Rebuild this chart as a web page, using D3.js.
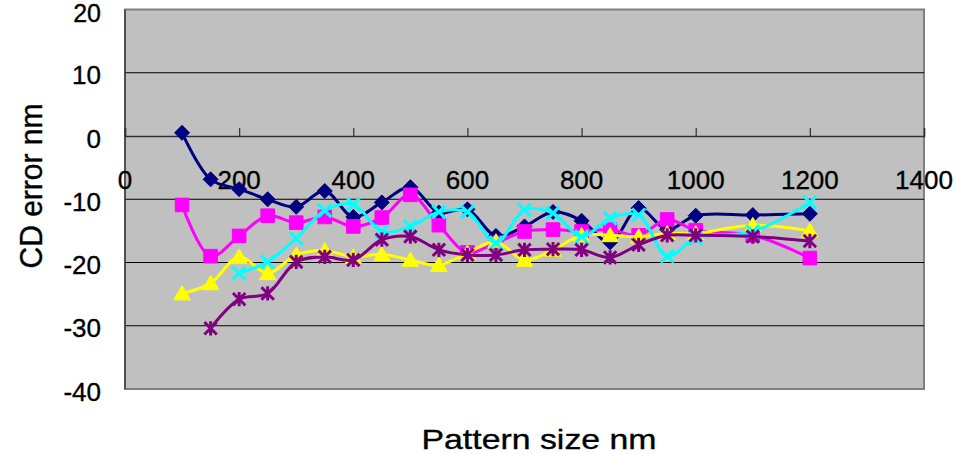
<!DOCTYPE html>
<html><head><meta charset="utf-8">
<script src="https://cdn.jsdelivr.net/npm/d3@7"></script>
<style>body{margin:0;background:#fff}svg{display:block}text{font-family:"Liberation Sans",Arial,sans-serif;fill:#000;stroke:#000;stroke-width:0.35px}</style>
</head><body>
<svg id="c" width="969" height="454"></svg>
<script>
const xTicks = [0,200,400,600,800,1000,1200,1400];
const yTicks = [-40,-30,-20,-10,0,10,20];
const xAll = [100,150,200,250,300,350,400,450,500,550,600,650,700,750,800,850,900,950,1000,1100,1200];
const navyVals    = [0.5,-6.85,-8.4,-10.0,-11.2,-8.7,-12.8,-10.5,-8.1,-12.1,-11.6,-15.8,-14.3,-12.0,-13.4,-16.8,-11.4,-14.8,-12.6,-12.5,-12.3];
const magentaVals = [-10.9,-19.0,-15.8,-12.6,-13.7,-12.8,-14.3,-12.9,-9.3,-14.1,-18.4,-16.9,-15.1,-14.8,-15.1,-14.8,-15.7,-13.2,-14.9,-15.7,-19.3];
const yellowVals  = [-24.9,-23.3,-19.1,-21.7,-18.8,-18.1,-19.1,-18.7,-19.6,-20.4,-18.5,-16.7,-19.6,-18.0,-15.7,-15.7,-15.9,-15.4,-15.4,-14.1,-15.0];
const cyanVals    = [null,null,-21.7,-19.9,-16.2,-11.8,-10.8,-15.1,-14.3,-12.0,-12.0,-16.9,-11.7,-12.2,-15.9,-13.0,-12.5,-19.0,-16.2,-15.1,-10.5];
const purpleVals  = [null,-30.4,-25.8,-24.9,-19.9,-19.1,-19.6,-16.4,-15.9,-18.0,-18.8,-18.8,-18.0,-17.9,-18.0,-19.2,-17.2,-15.7,-15.7,-15.9,-16.6];

const svg = d3.select("#c");
const L=125, R=924, T=9.5, B=389;
const x = d3.scaleLinear().domain([0,1400]).range([L,R]);
const y = d3.scaleLinear().domain([-40,20]).range([B,T]);

svg.append("rect").attr("x",L).attr("y",T).attr("width",R-L).attr("height",B-T)
  .attr("fill","#C0C0C0").attr("stroke","#808080").attr("stroke-width",2);

svg.append("g").selectAll("line").data(yTicks.filter(v=>v!==0 && v!==20 && v!==-40)).join("line")
  .attr("x1",L).attr("x2",R).attr("y1",d=>y(d)).attr("y2",d=>y(d))
  .attr("stroke","#000").attr("stroke-width",1);

svg.append("line").attr("x1",L).attr("x2",L).attr("y1",T).attr("y2",B).attr("stroke","#404040").attr("stroke-width",1.5);

svg.append("g").selectAll("text").data(yTicks).join("text")
  .attr("x",101).attr("y",d=>y(d)+(d===20?12.5:11.5)).attr("text-anchor","end")
  .attr("font-size",d=>d===20?25:26).text(d=>d);

const xAxisG = svg.append("g").attr("transform",`translate(0,${y(0)})`)
  .call(d3.axisTop(x).tickValues(xTicks).tickSize(8).tickFormat(""));
xAxisG.select(".domain").attr("stroke","#303030").attr("stroke-width",1.5);
xAxisG.selectAll(".tick line").attr("stroke","#303030").attr("stroke-width",1.2);

svg.append("g").selectAll("text").data(xTicks).join("text")
  .attr("x",d=>x(d)).attr("y",y(0)+53).attr("text-anchor","middle")
  .attr("font-size",26).text(d=>d);

svg.append("text").attr("transform","translate(42,186) rotate(-90)")
  .attr("text-anchor","middle").attr("font-size",31)
  .attr("textLength",165).attr("lengthAdjust","spacingAndGlyphs").text("CD error nm");
svg.append("text").attr("x",539).attr("y",449).attr("text-anchor","middle").attr("font-size",28)
  .attr("textLength",235).attr("lengthAdjust","spacingAndGlyphs").text("Pattern size nm");

const diamond = {draw(c,s){const r=s;c.moveTo(0,-r);c.lineTo(r,0);c.lineTo(0,r);c.lineTo(-r,0);c.closePath();}};
const square = {draw(c,s){const r=s;c.rect(-r,-r,2*r,2*r);}};
const tri = {draw(c,s){const r=s;c.moveTo(0,-r*1.05);c.lineTo(r*1.1,r*0.85);c.lineTo(-r*1.1,r*0.85);c.closePath();}};
const times = {draw(c,s){const r=s;c.moveTo(-r,-r);c.lineTo(r,r);c.moveTo(r,-r);c.lineTo(-r,r);}};
const aster = {draw(c,s){const r=s;c.moveTo(-r,-r);c.lineTo(r,r);c.moveTo(r,-r);c.lineTo(-r,r);c.moveTo(0,-r*1.15);c.lineTo(0,r*1.15);}};

const series = [
  {vals:navyVals,color:"#000080",sym:diamond,size:7.5,fill:true},
  {vals:magentaVals,color:"#FF00FF",sym:square,size:6.8,fill:true},
  {vals:yellowVals,color:"#FFFF00",sym:tri,size:7.5,fill:true},
  {vals:cyanVals,color:"#00FFFF",sym:times,size:6.5,fill:false},
  {vals:purpleVals,color:"#800080",sym:aster,size:6.2,fill:false}
];

const line = d3.line().x(d=>x(d[0])).y(d=>y(d[1])).curve(d3.curveCatmullRom.alpha(0.5));

series.forEach(s=>{
  const pts = xAll.map((xv,i)=>[xv,s.vals[i]]).filter(d=>d[1]!==null);
  const g = svg.append("g");
  g.append("path").attr("d",line(pts)).attr("fill","none").attr("stroke",s.color).attr("stroke-width",3);
  g.selectAll("path.m").data(pts).join("path").attr("class","m")
    .attr("transform",d=>`translate(${x(d[0])},${y(d[1])})`)
    .attr("d",d3.symbol().type(s.sym).size(s.size))
    .attr("fill",s.fill?s.color:"none").attr("stroke",s.color)
    .attr("stroke-width",s.fill?1:3);
});
</script>
</body></html>
